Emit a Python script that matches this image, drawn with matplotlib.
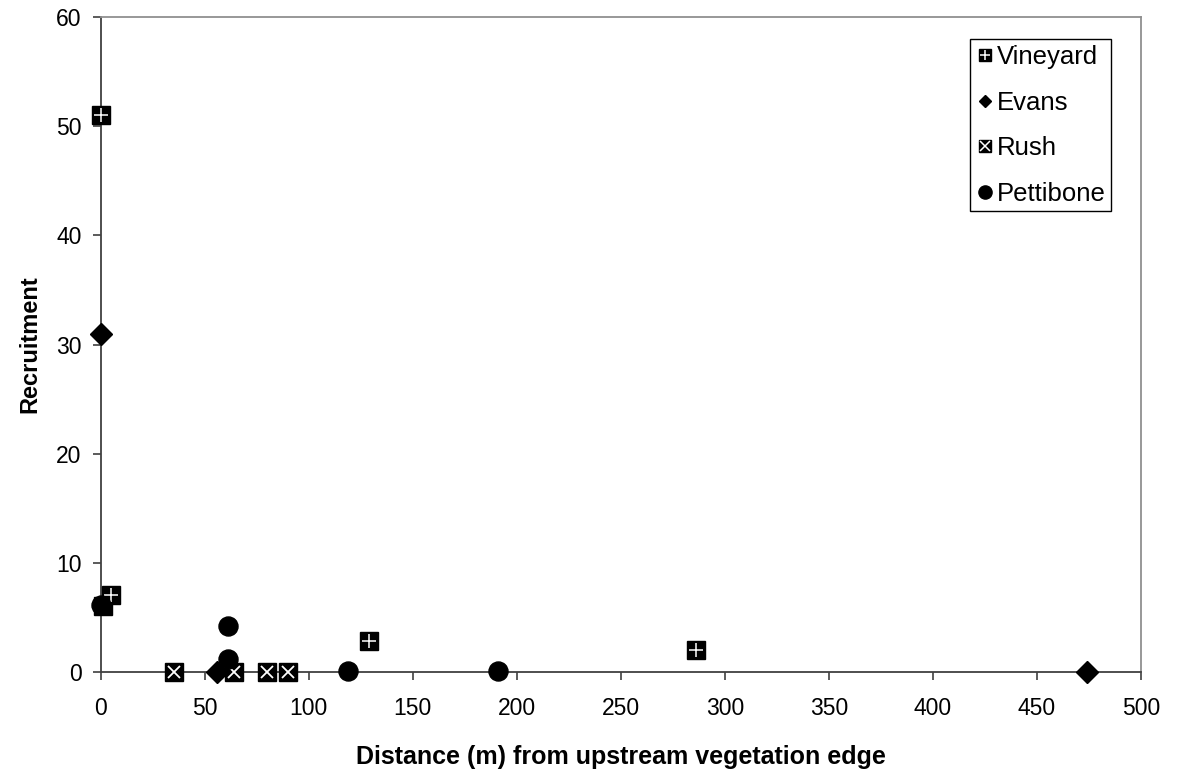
import matplotlib
matplotlib.use("Agg")
import matplotlib.pyplot as plt
from matplotlib.lines import Line2D

plt.rcParams['font.family'] = ['Liberation Sans', 'DejaVu Sans']

vineyard_x = [0, 5, 1, 129, 286]
vineyard_y = [51, 7, 6, 2.8, 2]
evans_x = [0, 56, 474]
evans_y = [31, 0, 0]
rush_x = [35, 64, 80, 90]
rush_y = [0, 0, 0, 0]
pett_x = [0, 61, 61, 119, 191]
pett_y = [6.1, 4.2, 1.2, 0.1, 0.1]

fig = plt.figure(figsize=(11.81, 7.76), dpi=100)
ax = fig.add_axes([0.0853, 0.1344, 0.8809, 0.8433])

# Vineyard: black square with white plus
ax.plot(vineyard_x, vineyard_y, ls='none', marker='s', ms=12.5, mfc='black', mec='black', clip_on=False, zorder=3)
ax.plot(vineyard_x, vineyard_y, ls='none', marker='+', ms=10, mew=1.1, mec='white', clip_on=False, zorder=4)
# Evans: diamond
ax.plot(evans_x, evans_y, ls='none', marker='D', ms=10.7, mfc='black', mec='black', clip_on=False, zorder=3)
# Rush: black square with white x
ax.plot(rush_x, rush_y, ls='none', marker='s', ms=12.5, mfc='black', mec='black', clip_on=False, zorder=3)
ax.plot(rush_x, rush_y, ls='none', marker='x', ms=9, mew=1.3, mec='white', clip_on=False, zorder=4)
# Pettibone: circle
ax.plot(pett_x, pett_y, ls='none', marker='o', ms=13.7, mfc='black', mec='black', clip_on=False, zorder=5)

ax.set_xlim(0, 500)
ax.set_ylim(0, 60)
ax.set_xticks(range(0, 501, 50))
ax.set_yticks(range(0, 61, 10))
ax.tick_params(labelsize=16.5, direction='out', length=5.8, width=1.2, color='#404040')
ax.tick_params(axis='x', pad=12.5)
ax.tick_params(axis='y', pad=8)
for s in ax.spines.values():
    s.set_color('#909090')
    s.set_linewidth(1.3)
ax.spines['left'].set_color('#404040')
ax.spines['bottom'].set_color('#404040')

ax.set_xlabel('Distance (m) from upstream vegetation edge', fontsize=18, fontweight='bold')
ax.set_ylabel('Recruitment', fontsize=17, fontweight='bold')
ax.xaxis.set_label_coords(0.5, -0.112)
ax.yaxis.set_label_coords(-0.0567, 0.5)

h_v = (Line2D([], [], ls='none', marker='s', ms=9.3, mfc='black', mec='black'),
       Line2D([], [], ls='none', marker='+', ms=7, mew=1.1, mec='white'))
h_e = Line2D([], [], ls='none', marker='D', ms=6.6, mfc='black', mec='black')
h_r = (Line2D([], [], ls='none', marker='s', ms=9.3, mfc='black', mec='black'),
       Line2D([], [], ls='none', marker='x', ms=6.5, mew=1.1, mec='white'))
h_p = Line2D([], [], ls='none', marker='o', ms=9.5, mfc='black', mec='black')
leg = ax.legend([h_v, h_e, h_r, h_p], ['Vineyard', 'Evans', 'Rush', 'Pettibone'],
                loc='upper right', bbox_to_anchor=(0.9712, 0.9664), borderaxespad=0,
                fontsize=18.5, fancybox=False, framealpha=1, edgecolor='black',
                handlelength=0.7, handletextpad=0.12, labelspacing=0.84, borderpad=0.22)
leg.get_frame().set_linewidth(1.0)

fig.savefig('out.png', dpi=100)
